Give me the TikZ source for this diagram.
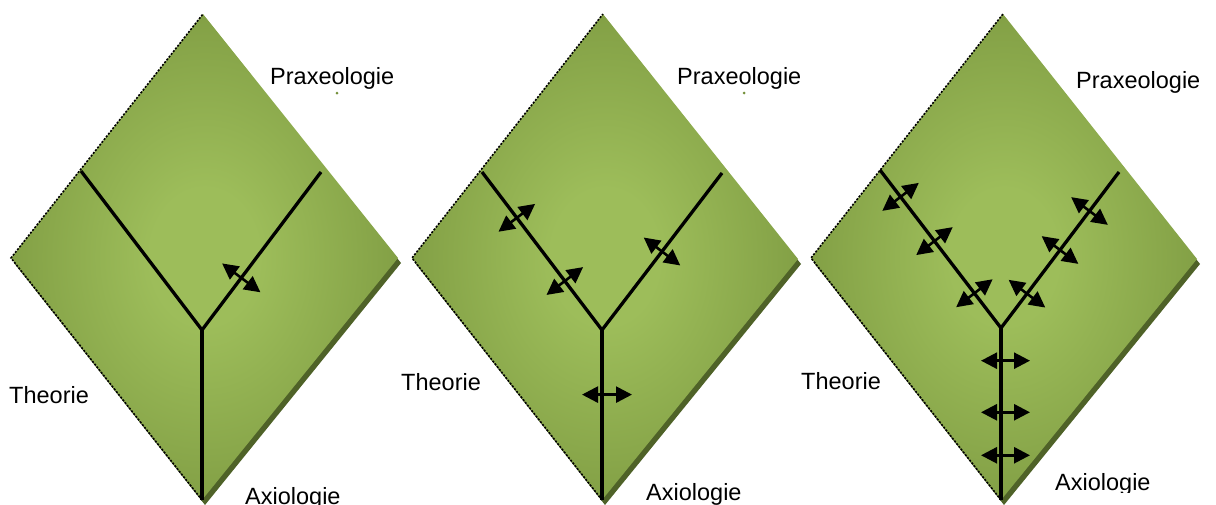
\documentclass[tikz,border=0pt]{standalone}
\usepackage{fontspec}
\setmainfont{Liberation Sans}
\usetikzlibrary{arrows.meta,calc}
\definecolor{leaflight}{RGB}{157,189,90}
\definecolor{leafdark}{RGB}{116,144,58}
\definecolor{leafshadow}{RGB}{79,98,40}
\pgfdeclareradialshading{leaf}{\pgfpoint{0bp}{0bp}}{color(0bp)=(leaflight); color(7bp)=(leaflight); color(35bp)=(leafdark); color(50bp)=(leafdark)}

\begin{document}
\begin{tikzpicture}[x=1pt, y=-1pt, >={Triangle[length=16pt,width=16pt]},
    panel/.style={shading=leaf},
    panelshadow/.style={fill=leafshadow},
    rimline/.style={black, line width=1.6pt, dash pattern=on 2pt off 1.5pt},
    stem/.style={black, line width=3.3pt, line join=miter},
    pull/.style={<->, black, line width=2.6pt},
    nametext/.style={anchor=base west, inner sep=0pt, font=\fontsize{23.5pt}{28pt}\selectfont}]

    \useasboundingbox (0,0) rectangle (1216,504);

    % (1) one swap on the right arm
    \begin{scope}
        \coordinate (t1) at (203,14);
        \coordinate (w1) at (11,258);
        \coordinate (e1) at (398,258);
        \coordinate (b1) at (202,500);
        \coordinate (j1) at (202,330);
        \coordinate (l1) at (81,171);
        \coordinate (r1) at (321,172);

        % leaf with its shadow
        \fill[panelshadow] ($(t1)+(3,5)$) -- ($(e1)+(3,5)$) -- ($(b1)+(3,5)$) -- ($(w1)+(3,5)$) -- cycle;
        \shade[panel] (t1) -- (e1) -- (b1) -- (w1) -- cycle;
        \draw[rimline] (b1) -- (w1) -- (t1);

        % Y branches
        \draw[stem] (l1) -- (j1) -- (r1);
        \draw[stem] (j1) -- (b1);

        \foreach \arm/\t in {r1/0.33} {
            \coordinate (p) at ($(j1)!\t!(\arm)$);
            \draw[pull] ($(p)!24pt!90:(\arm)$) -- ($(p)!24pt!-90:(\arm)$);
        }

        \node[nametext] (prax1) at (270,84) {Praxeologie};
        \node[nametext] (theo1) at (9,403) {Theorie};
        \node[nametext] (axio1) at (245,504) {Axiologie};
        \fill[leafdark] (337,93) circle (1.5);
    \end{scope}

    % (2) swaps on both arms and the stem
    \begin{scope}[shift={(400,0)}]
        \coordinate (t2) at (203,14);
        \coordinate (w2) at (12,258);
        \coordinate (e2) at (398,259);
        \coordinate (b2) at (202,500);
        \coordinate (j2) at (202,330);
        \coordinate (l2) at (82,172);
        \coordinate (r2) at (322,173);

        % leaf with its shadow
        \fill[panelshadow] ($(t2)+(3,5)$) -- ($(e2)+(3,5)$) -- ($(b2)+(3,5)$) -- ($(w2)+(3,5)$) -- cycle;
        \shade[panel] (t2) -- (e2) -- (b2) -- (w2) -- cycle;
        \draw[rimline] (b2) -- (w2) -- (t2);

        % Y branches
        \draw[stem] (l2) -- (j2) -- (r2);
        \draw[stem] (j2) -- (b2);

        \foreach \arm/\t in {l2/0.71, l2/0.31, r2/0.5} {
            \coordinate (p) at ($(j2)!\t!(\arm)$);
            \draw[pull] ($(p)!23pt!90:(\arm)$) -- ($(p)!23pt!-90:(\arm)$);
        }
        \foreach \t in {0.38} {
            \coordinate (p) at ($(j2)!\t!(b2)$);
            \draw[pull] ($(p)+(-20,0)$) -- ($(p)+(30,0)$);
        }

        \node[nametext] (prax2) at (277,84) {Praxeologie};
        \node[nametext] (theo2) at (1,390) {Theorie};
        \node[nametext] (axio2) at (246,500) {Axiologie};
        \fill[leafdark] (344,93) circle (1.5);
    \end{scope}

    % (3) swaps all along the Y
    \begin{scope}[shift={(800,0)}]
        \coordinate (t3) at (203,14);
        \coordinate (w3) at (11,258);
        \coordinate (e3) at (397,259);
        \coordinate (b3) at (201,500);
        \coordinate (j3) at (201,328);
        \coordinate (l3) at (80,170);
        \coordinate (r3) at (319,172);

        % leaf with its shadow
        \fill[panelshadow] ($(t3)+(3,5)$) -- ($(e3)+(3,5)$) -- ($(b3)+(3,5)$) -- ($(w3)+(3,5)$) -- cycle;
        \shade[panel] (t3) -- (e3) -- (b3) -- (w3) -- cycle;
        \draw[rimline] (b3) -- (w3) -- (t3);

        % Y branches
        \draw[stem] (l3) -- (j3) -- (r3);
        \draw[stem] (j3) -- (b3);

        \foreach \arm/\t in {l3/0.83, l3/0.55, l3/0.22, r3/0.75, r3/0.5, r3/0.22} {
            \coordinate (p) at ($(j3)!\t!(\arm)$);
            \draw[pull] ($(p)!23pt!90:(\arm)$) -- ($(p)!23pt!-90:(\arm)$);
        }
        \foreach \t in {0.19, 0.49, 0.74} {
            \coordinate (p) at ($(j3)!\t!(b3)$);
            \draw[pull] ($(p)+(-20,0)$) -- ($(p)+(29,0)$);
        }

        \node[nametext] (prax3) at (276,88) {Praxeologie};
        \node[nametext] (theo3) at (1,389) {Theorie};
        \begin{scope}
            \clip (240,440) rectangle (416,492);
            \node[nametext] (axio3) at (255,490) {Axiologie};
        \end{scope}
    \end{scope}

\end{tikzpicture}
\end{document}
